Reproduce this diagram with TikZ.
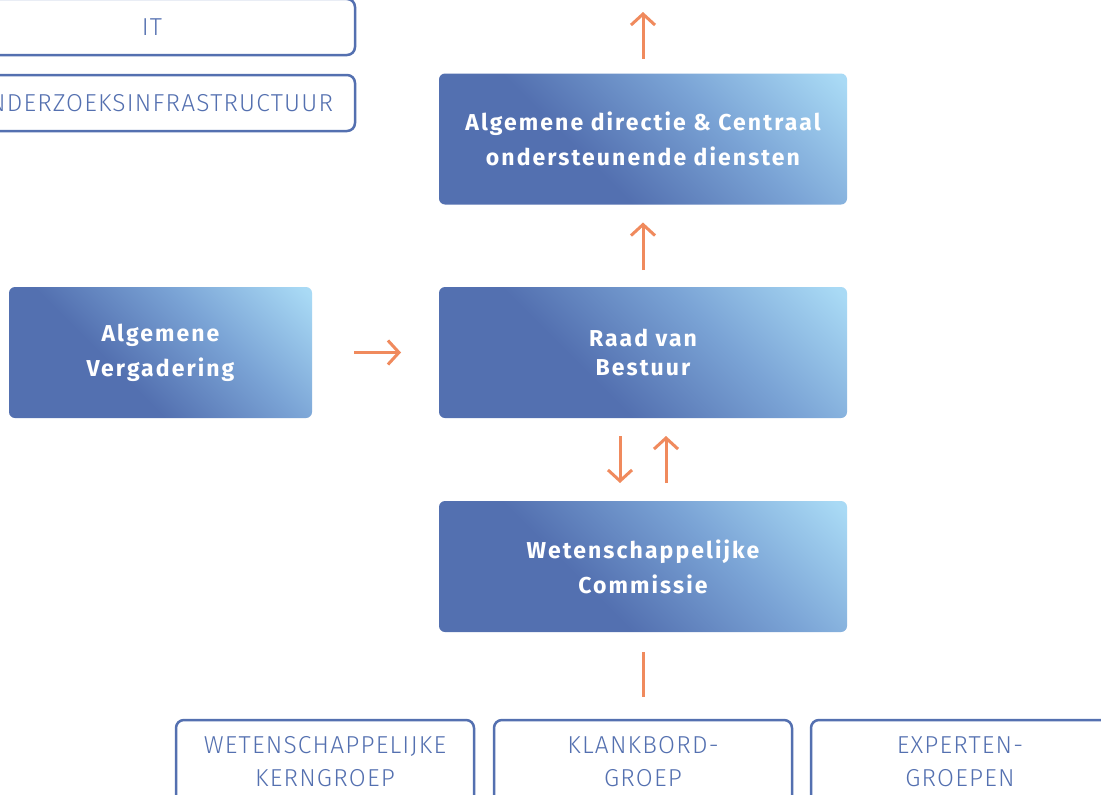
\documentclass[tikz,border=0pt]{standalone}
\usepackage{fontspec}
\setmainfont{Fira Sans}
\newfontfamily\lightfont[LetterSpace=5]{Fira Sans Light}
\newfontfamily\gfont[LetterSpace=9]{Fira Sans}
\usetikzlibrary{arrows.meta}
\definecolor{gdark}{RGB}{83,112,176}
\definecolor{gmid}{RGB}{122,163,213}
\definecolor{glight}{RGB}{169,218,245}
\definecolor{cblue}{RGB}{84,112,176}
\definecolor{corange}{RGB}{240,138,93}
\pgfdeclarehorizontalshading{boxgrad}{100bp}{color(0bp)=(gdark); color(40bp)=(gdark); color(62bp)=(gmid); color(84bp)=(glight); color(100bp)=(glight)}
\tikzset{
  gbox/.style={rounded corners=6pt, shading=boxgrad, shading angle=45, minimum width=408pt, minimum height=131pt, text=white, font=\gfont\bfseries\fontsize{23}{35}\selectfont, align=center, inner sep=0pt, outer sep=0pt},
  obox/.style={draw=cblue, line width=2.5pt, rounded corners=8pt, fill=white, text=cblue, font=\lightfont\fontsize{24.5}{33}\selectfont, align=center, minimum width=298pt, inner sep=0pt},
  arr/.style={draw=corange, line width=3pt, -{Straight Barb[length=11pt,width=24pt]}},
  plainline/.style={draw=corange, line width=3pt}
}
\begin{document}
\begin{tikzpicture}[x=1pt,y=-1pt]
\useasboundingbox (0,0) rectangle (1101,795);
\clip (0,0) rectangle (1101,795);
\fill[white] (0,0) rectangle (1101,795);
% top-left outline boxes
\node[obox, minimum width=406pt, minimum height=56pt] (it) at (152,27) {IT};
\node[obox, minimum width=406pt, minimum height=56pt] (oi) at (152,103) {ONDERZOEKSINFRASTRUCTUUR};
% gradient boxes
\node[gbox] (b1) at (643,139) {Algemene directie \& Centraal\\ondersteunende diensten};
\node[gbox, font=\gfont\bfseries\fontsize{23}{29}\selectfont] (b2) at (643,352.5) {Raad van\\Bestuur};
\node[gbox, minimum width=303pt] (av) at (160.5,352.5) {Algemene\\Vergadering};
\node[gbox] (b3) at (643,566.5) {Wetenschappelijke\\Commissie};
% bottom outline boxes
\node[obox, minimum height=84pt] (kern) at (325,762) {WETENSCHAPPELIJKE\\KERNGROEP};
\node[obox, minimum height=84pt] (klank) at (643,762) {KLANKBORD-\\GROEP};
\node[obox, minimum height=84pt] (exp) at (960,762) {EXPERTEN-\\GROEPEN};
% connectors
\coordinate (top) at (643,0);
\draw[arr, shorten <=15pt, shorten >=12pt] (b1.north) -- (top);
\draw[arr, shorten <=17pt, shorten >=18pt] (b2.north) -- (b1.south);
\draw[arr, shorten <=42pt, shorten >=38pt] (av.east) -- (b2.west);
\draw[arr, shorten <=18pt, shorten >=18pt] ([xshift=-23pt]b2.south) -- ([xshift=-23pt]b3.north);
\draw[arr, shorten <=18pt, shorten >=18pt] ([xshift=23pt]b3.north) -- ([xshift=23pt]b2.south);
\draw[plainline, shorten <=20pt, shorten >=22pt] (b3.south) -- (klank.north);
\end{tikzpicture}
\end{document}
